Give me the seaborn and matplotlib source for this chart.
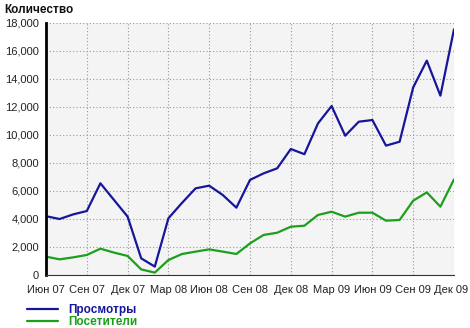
import numpy as np
import pandas as pd
import matplotlib
matplotlib.use("Agg")
import matplotlib.pyplot as plt
import matplotlib.transforms as mtransforms
import seaborn as sns
from matplotlib.ticker import FuncFormatter, FixedLocator
from matplotlib.lines import Line2D

months = ["Июн 07", "Июл 07", "Авг 07", "Сен 07", "Окт 07", "Ноя 07", "Дек 07",
          "Янв 08", "Фев 08", "Мар 08", "Апр 08", "Май 08", "Июн 08", "Июл 08",
          "Авг 08", "Сен 08", "Окт 08", "Ноя 08", "Дек 08", "Янв 09", "Фев 09",
          "Мар 09", "Апр 09", "Май 09", "Июн 09", "Июл 09", "Авг 09", "Сен 09",
          "Окт 09", "Ноя 09", "Дек 09"]
views = [4200, 4000, 4330, 4570, 6550, 5360, 4170, 1190, 600, 4050, 5150, 6190,
         6380, 5710, 4810, 6790, 7260, 7620, 9000, 8630, 10830, 12070, 9950,
         10950, 11070, 9240, 9520, 13400, 15310, 12810, 17550]
visitors = [1310, 1120, 1260, 1430, 1880, 1600, 1360, 400, 170, 1070, 1500, 1670,
            1830, 1670, 1500, 2260, 2860, 3020, 3450, 3520, 4290, 4520, 4170,
            4450, 4450, 3880, 3930, 5310, 5900, 4880, 6830]
series_names = ["Просмотры", "Посетители"]
colors = ["#16169a", "#1ca01c"]
tick_labels = months[::3]
y_title = "Количество"

df = pd.DataFrame({
    "idx": list(range(len(months))) * 2,
    "value": views + visitors,
    "series": [series_names[0]] * len(views) + [series_names[1]] * len(visitors),
})

sns.set_style("white")
plt.rcParams['font.family'] = ['Liberation Sans', 'DejaVu Sans']

fig = plt.figure(figsize=(4.7, 3.28), dpi=100)
ax = fig.add_axes([46 / 470, 1 - 275 / 328, (454 - 46) / 470, (275 - 23) / 328])
ax.set_facecolor("#f4f4f4")

sns.lineplot(data=df, x="idx", y="value", hue="series", palette=colors,
             linewidth=1.6, ax=ax, legend=False)

ax.set_xlim(0, len(months) - 1)
ax.set_ylim(0, 18000)
ax.xaxis.set_major_locator(FixedLocator(list(range(0, len(months), 3))))
ax.set_xticklabels(tick_labels)
ax.set_yticks(np.arange(0, 18001, 2000))
ax.yaxis.set_major_formatter(FuncFormatter(lambda v, p: f"{int(v):,}"))
ax.set_xlabel("")
ax.set_ylabel("")

ax.grid(True, color="#999999", linestyle=(0, (1, 2)), linewidth=0.8)
ax.set_axisbelow(True)
for s in ["top", "right"]:
    ax.spines[s].set_visible(False)
ax.spines["left"].set_color("black")
ax.spines["left"].set_linewidth(2)
ax.spines["bottom"].set_color("#333333")
ax.spines["bottom"].set_linewidth(0.8)
ax.tick_params(axis="both", direction="out", length=3, width=0.8,
               labelsize=8, colors="#222222", pad=2)
ax.tick_params(axis="x", pad=4)

# nudge last x label so it stays inside the figure
last = ax.get_xticklabels()[-1]
last.set_transform(last.get_transform() +
                   mtransforms.ScaledTranslation(-3 / 100, 0, fig.dpi_scale_trans))

fig.text(4 / 470, 1 - 10 / 328, y_title, fontsize=8.5, fontweight="bold",
         ha="left", va="center", color="#111111")

handles = [Line2D([], [], color=c, linewidth=1.6) for c in colors]
leg = fig.legend(handles, series_names, loc="upper left",
                 bbox_to_anchor=(27 / 470, 1 - 304 / 328), frameon=False,
                 fontsize=8.5, handlelength=2.6, handletextpad=0.9,
                 labelspacing=0.0, borderaxespad=0, borderpad=0)
for t, c in zip(leg.get_texts(), colors):
    t.set_color(c)
    t.set_fontweight("bold")

fig.savefig("out.png", dpi=100)
